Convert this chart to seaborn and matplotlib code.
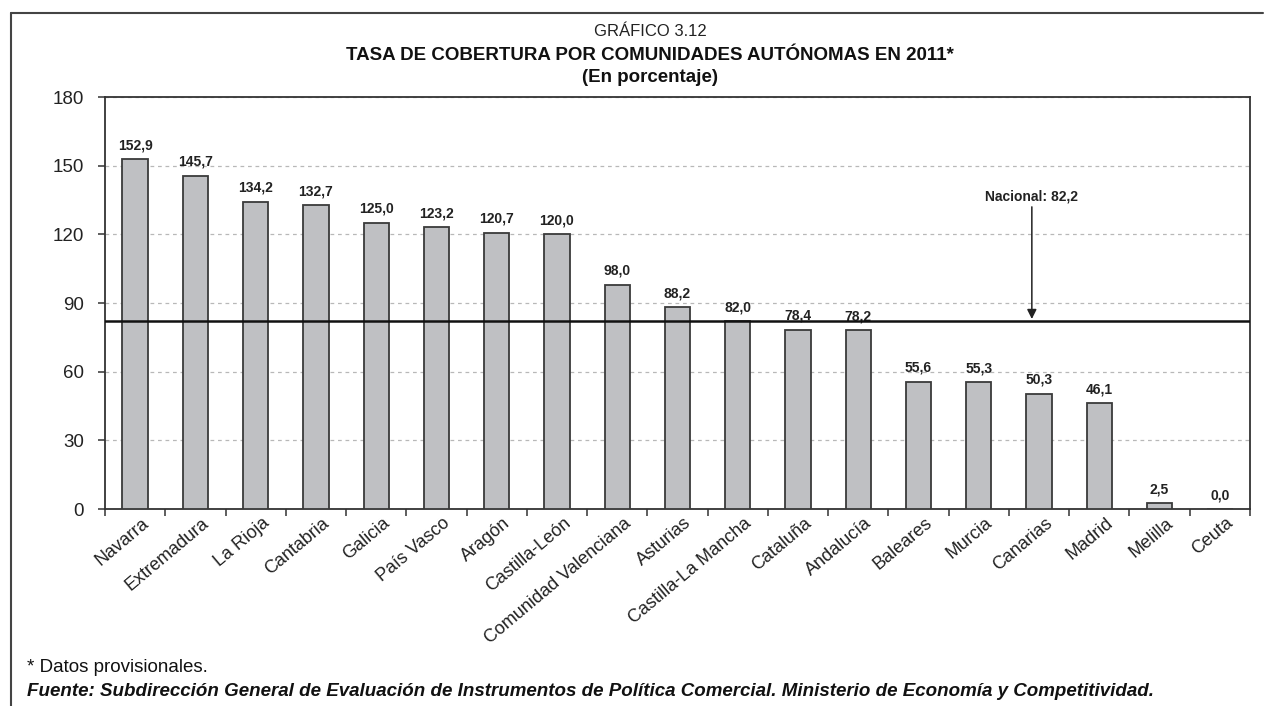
import matplotlib
matplotlib.use("Agg")
import matplotlib.pyplot as plt
import matplotlib.transforms as mtransforms
from matplotlib.lines import Line2D
import seaborn as sns
import pandas as pd

# Datos: tasa de cobertura por comunidad autónoma (%)
comunidades = ["Navarra", "Extremadura", "La Rioja", "Cantabria", "Galicia",
               "País Vasco", "Aragón", "Castilla-León", "Comunidad Valenciana",
               "Asturias", "Castilla-La Mancha", "Cataluña", "Andalucía",
               "Baleares", "Murcia", "Canarias", "Madrid", "Melilla", "Ceuta"]
tasas = [152.9, 145.7, 134.2, 132.7, 125.0, 123.2, 120.7, 120.0, 98.0,
         88.2, 82.0, 78.4, 78.2, 55.6, 55.3, 50.3, 46.1, 2.5, 0.0]
nacional = 82.2
y_ticks = [0, 30, 60, 90, 120, 150, 180]

titulo_1 = "GRÁFICO 3.12"
titulo_2 = "TASA DE COBERTURA POR COMUNIDADES AUTÓNOMAS EN 2011*"
titulo_3 = "(En porcentaje)"
nota = "* Datos provisionales."
fuente = ("Fuente: Subdirección General de Evaluación de Instrumentos de Política "
          "Comercial. Ministerio de Economía y Competitividad.")

df = pd.DataFrame({"comunidad": comunidades, "tasa": tasas})

sns.set_theme(style="white")
plt.rcParams["font.family"] = ["Liberation Sans", "DejaVu Sans"]

W, H = 1267, 706
fig = plt.figure(figsize=(W / 100, H / 100), dpi=100)
ax = fig.add_axes([105 / W, 1 - 509 / H, (1250 - 105) / W, (509 - 97) / H])

sns.barplot(data=df, x="comunidad", y="tasa", color="#bfc0c3", width=0.42,
            edgecolor="#3a3a3a", linewidth=1.3, saturation=1, ax=ax, zorder=3)

ax.set_xlim(-0.5, len(comunidades) - 0.5)
ax.set_ylim(0, 180)
ax.set_yticks(y_ticks)
ax.set_xlabel("")
ax.set_ylabel("")

# Rejilla discontinua
ax.yaxis.grid(True, color="#b8b8b8", linestyle=(0, (3, 3)), linewidth=0.9, zorder=0)
ax.set_axisbelow(True)

for s in ax.spines.values():
    s.set_color("#333333")
    s.set_linewidth(1.3)

ax.tick_params(axis="y", which="major", direction="out", length=5, width=1.1,
               color="#333333", labelsize=13.5, pad=10, labelcolor="#222222", left=True)
ax.set_xticks(range(len(comunidades)))
ax.set_xticks([i - 0.5 for i in range(len(comunidades) + 1)], minor=True)
ax.tick_params(axis="x", which="major", length=0, pad=4, labelsize=13, labelcolor="#222222")
ax.tick_params(axis="x", which="minor", direction="out", length=5, width=1.1,
               color="#333333", bottom=True)
offset = mtransforms.ScaledTranslation(6 / 100, 0, fig.dpi_scale_trans)
for lab in ax.get_xticklabels():
    lab.set_rotation(40)
    lab.set_ha("right")
    lab.set_va("top")
    lab.set_rotation_mode("anchor")
    lab.set_transform(lab.get_transform() + offset)

# Etiquetas de valor sobre las barras
for i, v in enumerate(tasas):
    ax.annotate(f"{v:.1f}".replace(".", ","), (i, v), xytext=(0, 5),
                textcoords="offset points", ha="center", va="bottom",
                fontsize=10, fontweight="bold", color="#222222")

# Media nacional
ax.axhline(nacional, color="#111111", linewidth=1.8, zorder=4)
x_flecha = 14.88
ax.annotate("", xy=(x_flecha, nacional + 0.8), xytext=(x_flecha, 132),
            arrowprops=dict(arrowstyle="-|>", color="#222222", lw=1.1,
                            mutation_scale=14, shrinkA=0, shrinkB=0), zorder=5)
ax.text(x_flecha, 133.5, f"Nacional: {nacional:.1f}".replace(".", ","),
        ha="center", va="bottom", fontsize=10, fontweight="bold", color="#222222")

# Títulos
cx = 650 / W
fig.text(cx, 1 - 31 / H, titulo_1, ha="center", va="center", fontsize=12, color="#222222")
fig.text(cx, 1 - 55 / H, titulo_2, ha="center", va="center", fontsize=13.5,
         fontweight="bold", color="#111111")
fig.text(cx, 1 - 78 / H, titulo_3, ha="center", va="center", fontsize=13.5,
         fontweight="bold", color="#111111")

# Notas al pie
fig.text(27 / W, 1 - 667 / H, nota, ha="left", va="center", fontsize=13.5, color="#111111")
fig.text(27 / W, 1 - 692 / H, fuente, ha="left", va="center", fontsize=13.5,
         fontweight="bold", fontstyle="italic", color="#111111")

# Marco exterior (superior e izquierdo)
fig.add_artist(Line2D([11 / W, 1263 / W], [1 - 12.7 / H, 1 - 12.7 / H],
                      color="#444444", linewidth=1.5, transform=fig.transFigure))
fig.add_artist(Line2D([11 / W, 11 / W], [1 - 12.7 / H, 0],
                      color="#444444", linewidth=1.5, transform=fig.transFigure))

fig.savefig("out.png", dpi=100, facecolor="white")
